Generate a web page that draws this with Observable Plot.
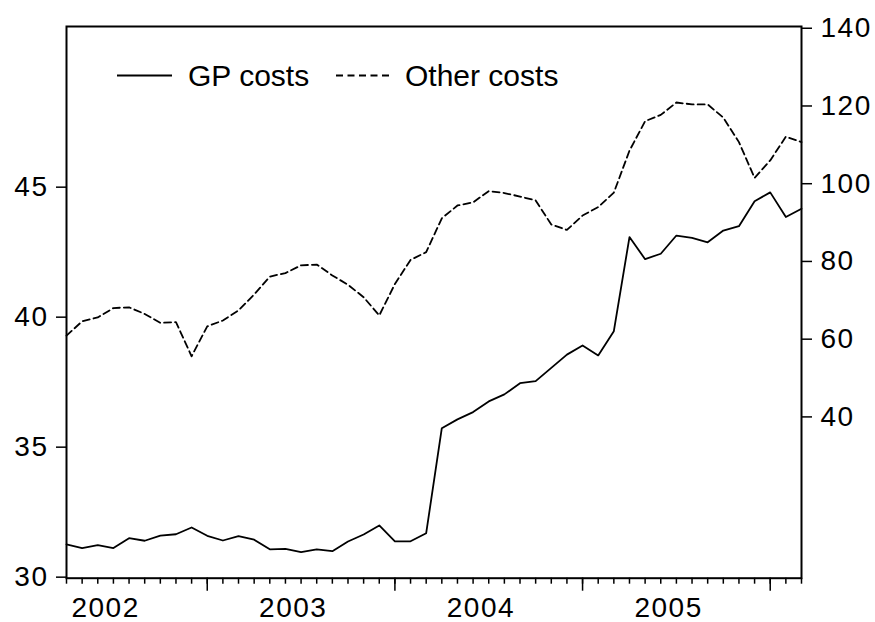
<!DOCTYPE html>
<html>
<head>
<meta charset="utf-8">
<script src="https://cdn.jsdelivr.net/npm/d3@7"></script>
<script src="https://cdn.jsdelivr.net/npm/@observablehq/plot@0.6"></script>
<style>
  html, body { margin: 0; padding: 0; background: white; }
  #chart { width: 875px; height: 622px; }
</style>
</head>
<body>
<div id="chart"></div>
<script>
// ---- Data (monthly, Apr 2002 – Mar 2006) ----
const startMonth = "2002-04";
const gpCosts = [31.26, 31.12, 31.23, 31.12, 31.50, 31.40, 31.60, 31.65, 31.91, 31.59,
                 31.41, 31.58, 31.44, 31.07, 31.09, 30.96, 31.07, 31.00, 31.37, 31.64,
                 31.99, 31.38, 31.38, 31.69, 35.73, 36.07, 36.35, 36.76, 37.03, 37.46,
                 37.54, 38.05, 38.56, 38.91, 38.53, 39.46, 43.08, 42.23, 42.44, 43.14,
                 43.05, 42.88, 43.33, 43.50, 44.46, 44.80, 43.85, 44.17];
const otherCosts = [60.9, 64.6, 65.6, 68.0, 68.2, 66.5, 64.2, 64.4, 55.6, 63.3,
                    64.8, 67.4, 71.5, 76.1, 77.0, 79.0, 79.2, 76.4, 74.0, 70.8,
                    66.1, 74.2, 80.4, 82.4, 91.1, 94.4, 95.2, 98.1, 97.6, 96.7,
                    95.7, 89.5, 88.1, 91.8, 94.0, 97.7, 108.5, 116.1, 117.7, 120.9,
                    120.4, 120.4, 117.0, 110.7, 101.5, 106.0, 112.1, 110.7];
const years = [2002, 2003, 2004, 2005];
const leftTicks = [30, 35, 40, 45];
const rightTicks = [40, 60, 80, 100, 120, 140];
const leftDomain = [29.96, 51.18];
const rightDomain = [-1.5, 140.45];
const seriesNames = ["GP costs", "Other costs"];

// ---- Derived ----
const start = d3.utcParse("%Y-%m")(startMonth);
const dates = d3.range(gpCosts.length).map(i => d3.utcMonth.offset(start, i));
const rows = dates.map((d, i) => ({i, date: d, gp: gpCosts[i], other: otherCosts[i]}));
const k = (leftDomain[1] - leftDomain[0]) / (rightDomain[1] - rightDomain[0]);
const toLeft = v => leftDomain[0] + (v - rightDomain[0]) * k;
const fromLeft = v => rightDomain[0] + (v - leftDomain[0]) / k;
const monthIdx = rows.map(r => r.i);
const janIdx = rows.filter(r => r.date.getUTCMonth() === 0).map(r => r.i);
// year label sits between June and July of each year
const yearLabelPos = years.map(y => rows.find(r => r.date.getUTCFullYear() === y && r.date.getUTCMonth() === 5).i + 0.5);
const yearOf = new Map(yearLabelPos.map((p, j) => [p, years[j]]));

const FONT = "Arial, 'Liberation Sans', sans-serif";

const chart = Plot.plot({
  width: 875,
  height: 622,
  marginLeft: 66,
  marginRight: 74,
  marginTop: 26,
  marginBottom: 44.3,
  x: {type: "linear", domain: [0, gpCosts.length - 1], axis: null},
  y: {domain: leftDomain, axis: null},
  style: {fontFamily: FONT, color: "black", background: "white", letterSpacing: "1.5px"},
  marks: [
    Plot.axisY(leftTicks, {anchor: "left", tickSize: 10, tickPadding: 8, fontSize: 28, strokeWidth: 1.5, label: null, tickFormat: d => String(d)}),
    Plot.axisY(rightTicks.map(toLeft), {anchor: "right", tickSize: 10, tickPadding: 9, fontSize: 28, strokeWidth: 1.5, label: null, tickFormat: d => String(Math.round(fromLeft(d)))}),
    Plot.axisX(monthIdx, {anchor: "bottom", tickSize: 6, strokeWidth: 1.5, label: null, tickFormat: () => ""}),
    Plot.axisX(janIdx, {anchor: "bottom", tickSize: 13, strokeWidth: 1.5, label: null, tickFormat: () => ""}),
    Plot.axisX(yearLabelPos, {anchor: "bottom", tickSize: 0, tickPadding: 19, fontSize: 28, label: null, tickFormat: d => String(yearOf.get(d))}),
    Plot.line(rows, {x: "i", y: "gp", stroke: "black", strokeWidth: 1.8}),
    Plot.line(rows, {x: "i", y: d => toLeft(d.other), stroke: "black", strokeWidth: 1.8, strokeDasharray: "7,4"}),
    Plot.frame({stroke: "black", strokeWidth: 2})
  ]
});

document.getElementById("chart").appendChild(chart);

// ---- Legend inside the plot area ----
const svg = d3.select(chart);
const lg = svg.append("g")
  .attr("font-family", FONT)
  .attr("font-size", 30)
  .attr("text-anchor", "start")
  .style("letter-spacing", "0px");
const legendItems = [
  {name: seriesNames[0], x0: 117, x1: 172, tx: 188, dash: null},
  {name: seriesNames[1], x0: 336, x1: 393, tx: 405, dash: "7,4.5"}
];
legendItems.forEach(it => {
  lg.append("line").attr("x1", it.x0).attr("x2", it.x1).attr("y1", 75.5).attr("y2", 75.5)
    .attr("stroke", "black").attr("stroke-width", 1.8).attr("stroke-dasharray", it.dash);
  lg.append("text").attr("x", it.tx).attr("y", 85.5).attr("fill", "black")
    .attr("text-anchor", "start").text(it.name);
});
</script>
</body>
</html>
